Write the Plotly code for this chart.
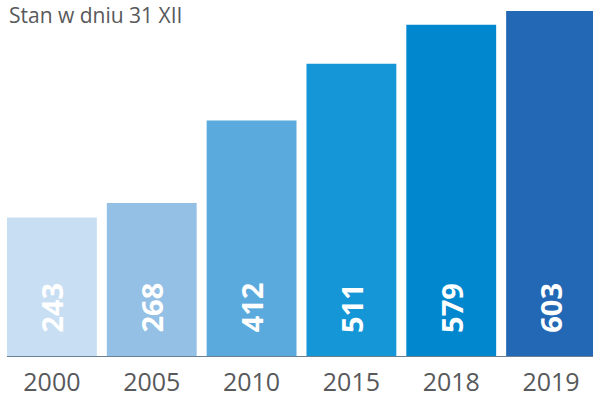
import plotly.graph_objects as go

years = ["2000", "2005", "2010", "2015", "2018", "2019"]
values = [243, 268, 412, 511, 579, 603]
colors = ["#C8DEF2", "#94C0E6", "#5BAADD", "#1596D6", "#0087CE", "#2268B4"]
title_text = "Stan w dniu 31 XII"

fig = go.Figure()
fig.add_trace(go.Bar(
    x=years, y=values,
    marker=dict(color=colors, line=dict(width=0)),
    hoverinfo="skip",
))

for i, v in enumerate(values):
    fig.add_annotation(
        x=i, y=0, xref="x", yref="y",
        text=f"<b>{v}</b>", textangle=-90,
        showarrow=False, yanchor="bottom", yshift=22,
        font=dict(family="Open Sans", size=29, color="white"),
    )

fig.add_shape(type="line", xref="x", yref="y", x0=-0.45, x1=5.6, y0=0, y1=0,
              line=dict(color="#6C8096", width=1.5), layer="above")

fig.add_annotation(
    text=title_text, xref="paper", yref="paper", x=0, y=1,
    xanchor="left", yanchor="top", showarrow=False,
    xshift=5, yshift=12,
    font=dict(family="Open Sans", size=21, color="#58595B"),
)

fig.update_layout(
    width=593, height=400,
    margin=dict(l=2, r=0, t=11, b=43),
    paper_bgcolor="white", plot_bgcolor="white",
    bargap=0.1, showlegend=False,
    xaxis=dict(type="category", range=[-0.5, 5.42], showgrid=False,
               showline=False, ticks="", zeroline=False, automargin=False,
               tickfont=dict(family="Open Sans", size=25, color="#58595B"),
               ticklabelstandoff=8),
    yaxis=dict(range=[-0.5, 603], visible=False, showgrid=False, zeroline=False),
)

fig.write_html("out.html")
